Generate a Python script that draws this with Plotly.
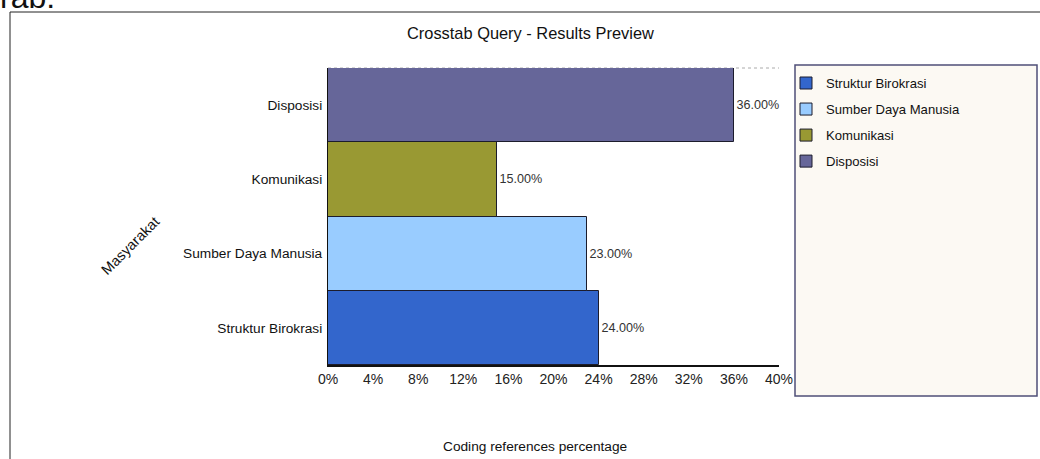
import plotly.graph_objects as go

# ---- data ----
categories = ["Struktur Birokrasi", "Sumber Daya Manusia", "Komunikasi", "Disposisi"]
values = [24.0, 23.0, 15.0, 36.0]
colors = ["#3366CC", "#99CCFF", "#999933", "#666699"]
x_tick_vals = [0, 4, 8, 12, 16, 20, 24, 28, 32, 36, 40]
x_tick_text = ["0%", "4%", "8%", "12%", "16%", "20%", "24%", "28%", "32%", "36%", "40%"]
title_text = "Crosstab Query - Results Preview"
x_title = "Coding references percentage"
y_title = "Masyarakat"

W, H = 1040, 459
L, R, T, B = 328, 779, 68, 365  # plot area in pixels


def px(x):
    return (x - L) / (R - L)


def py(y):
    return (B - y) / (B - T)


FONT = "Liberation Sans, Arial, sans-serif"

fig = go.Figure()
for i, (cat, val, col) in enumerate(zip(categories, values, colors)):
    fig.add_trace(go.Bar(
        y=[cat], x=[val], orientation="h", name=cat,
        marker=dict(color=col, line=dict(color="#1c1c2c", width=1)),
        texttemplate="%{x:.2f}%", textposition="outside",
        textfont=dict(family=FONT, size=12.6, color="#333333"),
        cliponaxis=False, legendgroup=cat,
        hovertemplate="%{y}: %{x:.2f}%<extra></extra>",
    ))

shapes = [
    # outer frame (top and left)
    dict(type="line", xref="paper", yref="paper", x0=px(10), x1=px(1045), y0=py(12), y1=py(12),
         line=dict(color="#222222", width=1)),
    dict(type="line", xref="paper", yref="paper", x0=px(10), x1=px(10), y0=py(12), y1=py(470),
         line=dict(color="#222222", width=1)),
    # dotted top border of plot area
    dict(type="line", xref="paper", yref="paper", x0=0, x1=1, y0=1, y1=1, layer="below",
         line=dict(color="#aaaaaa", width=1, dash="dot")),
    # legend box
    dict(type="rect", xref="paper", yref="paper", x0=px(795), x1=px(1037), y0=py(65), y1=py(396),
         fillcolor="#FCF9F3", line=dict(color="#4f4f78", width=1.5), layer="below"),
]

annotations = [
    dict(text=title_text, x=px(530), y=py(33), xref="paper", yref="paper", showarrow=False,
         xanchor="center", yanchor="middle", font=dict(family=FONT, size=16.4, color="#111111")),
    dict(text=x_title, x=px(535), y=py(446), xref="paper", yref="paper", showarrow=False,
         xanchor="center", yanchor="middle", font=dict(family=FONT, size=13.7, color="#111111")),
    dict(text=y_title, x=px(130), y=py(246), xref="paper", yref="paper", showarrow=False,
         textangle=-45, xanchor="center", yanchor="middle",
         font=dict(family=FONT, size=14.5, color="#111111")),
    dict(text="rab:", x=px(-2), y=py(-3.5), xref="paper", yref="paper", showarrow=False,
         xanchor="left", yanchor="middle", font=dict(family=FONT, size=32, color="#111111")),
]

fig.update_layout(
    width=W, height=H,
    margin=dict(l=L, r=W - R, t=T, b=H - B),
    paper_bgcolor="white", plot_bgcolor="white",
    barmode="overlay", bargap=0,
    showlegend=True,
    legend=dict(x=px(786), y=py(68), xref="paper", yref="paper", xanchor="left", yanchor="top",
                bgcolor="rgba(0,0,0,0)", borderwidth=0, traceorder="grouped",
                tracegroupgap=6, itemwidth=30,
                font=dict(family=FONT, size=13.1, color="#111111")),
    xaxis=dict(range=[0, 40], tickvals=x_tick_vals, ticktext=x_tick_text,
               showgrid=False, zeroline=False, showline=True, linecolor="#111111", linewidth=1.5,
               ticks="", tickfont=dict(family=FONT, size=14, color="#222222")),
    yaxis=dict(categoryorder="array", categoryarray=categories, showgrid=False, zeroline=False,
               showline=True, linecolor="#111111", linewidth=1, ticks="",
               ticklabelstandoff=2,
               tickfont=dict(family=FONT, size=13.7, color="#111111")),
    shapes=shapes, annotations=annotations,
    font=dict(family=FONT),
)

fig.write_html("out.html")
